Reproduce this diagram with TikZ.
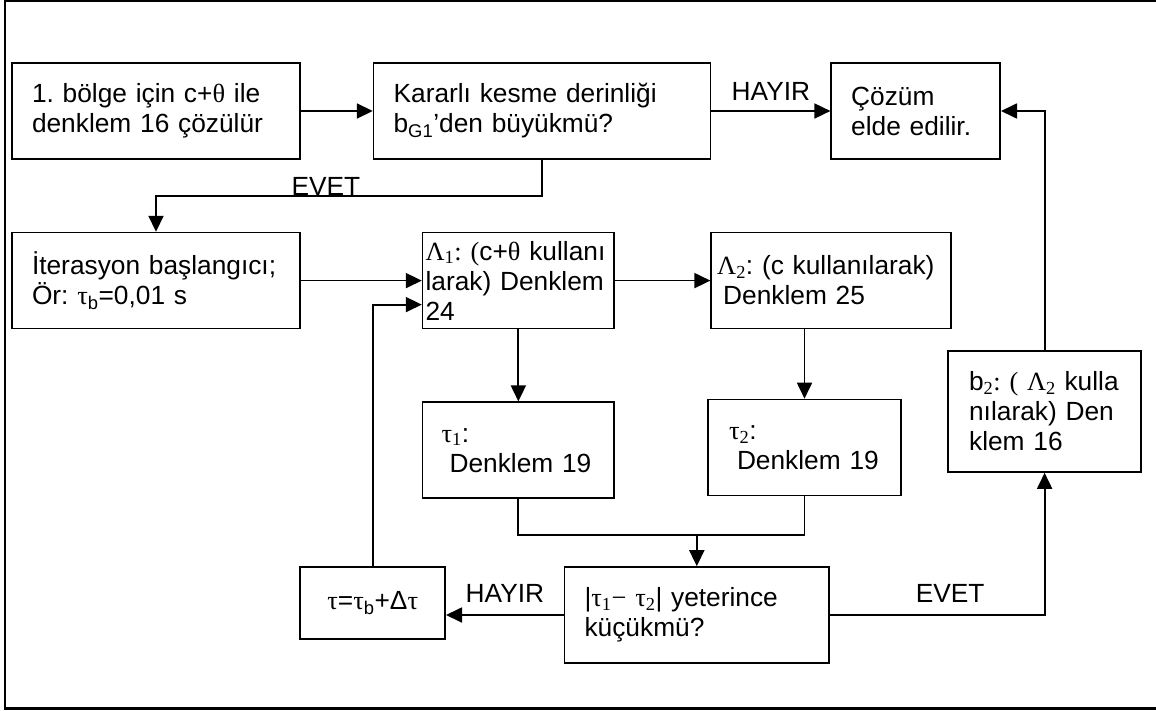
\documentclass[tikz,border=0pt]{standalone}
\usepackage{fontspec}
\setmainfont{Liberation Sans}
\newfontfamily\grkfont{Liberation Serif}
\newcommand{\gk}[1]{{\grkfont #1}}
\usetikzlibrary{arrows.meta,positioning}
\frenchspacing

\begin{document}
\begin{tikzpicture}[
  x=1pt, y=-1pt,
  font=\fontsize{26.3pt}{30pt}\selectfont,
  box/.style={draw, line width=1.6pt, align=left, inner xsep=20pt,
    inner ysep=2pt, minimum height=96pt},
  smallbox/.style={draw, line width=1.6pt, align=center, inner sep=2pt,
    minimum width=145pt, minimum height=72pt},
  arrow/.style={-{Triangle[length=16pt,width=15pt]}, line width=1.8pt},
  line/.style={line width=1.8pt},
  frame/.style={line width=2.5pt}
]
\useasboundingbox (0,0) rectangle (1156,711);
\draw[frame] (1160,1) -- (5,1) -- (5,708.5) -- (1160,708.5);

\node[box, text width=248pt] (start) at (156,111)
  {1. bölge için c+\gk{θ} ile\\denklem 16 çözülür};
\node[box, text width=297pt, right=72pt of start] (check)
  {Kararlı kesme derinliği\\b\textsubscript{G1}’den büyükmü?};
\node[box, text width=129pt, right=119pt of check] (sol)
  {Çözüm\\elde edilir.};
\node[box, text width=248pt, below=72pt of start] (init)
  {İterasyon başlangıcı;\\Ör: \gk{τ}\textsubscript{b}=0,01 s};
\node[box, inner xsep=3pt, text width=185.5pt, right=121pt of init] (lamone)
  {\mbox{\gk{Λ\textsubscript{1}:\hspace{9pt}(}c+\gk{θ} kullanı}\\larak) Denklem\\24};
\node[box, inner xsep=6pt, text width=228pt, right=95.5pt of lamone] (lamtwo)
  {\gk{Λ\textsubscript{2}}: (c kullanılarak)\\\hspace*{6pt}Denklem 25};
\node[box, inner xsep=19pt, text width=153.5pt, below=72pt of lamone] (tauone)
  {\gk{τ\textsubscript{1}}:\\\hspace*{8pt}Denklem 19};
\node[box, inner xsep=21pt, text width=151pt] (tautwo) at (804.5,447.5)
  {\gk{τ\textsubscript{2}}:\\\hspace*{8pt}Denklem 19};
\node[box, inner xsep=21pt, text width=151pt, minimum height=121pt] (btwo) at (1044.6,411.5)
  {b\gk{\textsubscript{2}: ( Λ\textsubscript{2}} kulla\\nılarak) Den\\klem 16};
\node[smallbox] (step) at (372.7,603)
  {\gk{τ}=\gk{τ}\textsubscript{b}+Δ\gk{τ}};
\node[box, text width=224.5pt] (small) at (696.8,615)
  {|\gk{τ\textsubscript{1}− τ\textsubscript{2}}| yeterince\\küçükmü?};

\draw[arrow] (start) -- (check);
\draw[arrow] (check) -- node[midway, above=6pt] {HAYIR} (sol);
\draw[arrow] (check.south) -- ++(0,36) -| node[pos=0.28, anchor=base, inner sep=0pt] {EVET} (init.north);
\draw[arrow] (init) -- (lamone);
\draw[arrow] (lamone) -- (lamtwo);
\draw[arrow] (lamone) -- (tauone);
\draw[arrow] (lamtwo.south -| tautwo.north) -- (tautwo.north);
\draw[line] (tauone.south) -- ++(0,36) coordinate (join) -| (tautwo.south);
\draw[arrow] (join -| small.north) -- (small.north);
\draw[arrow] (small.west) -- node[midway, above=8pt] {HAYIR} (small.west -| step.east);
\draw[arrow] (step.north) |- ([yshift=-24pt]lamone.west);
\draw[arrow] (small) -| node[pos=0.28, above=8pt] {EVET} (btwo.south);
\draw[arrow] (btwo.north) |- (sol.east);
\end{tikzpicture}
\end{document}
